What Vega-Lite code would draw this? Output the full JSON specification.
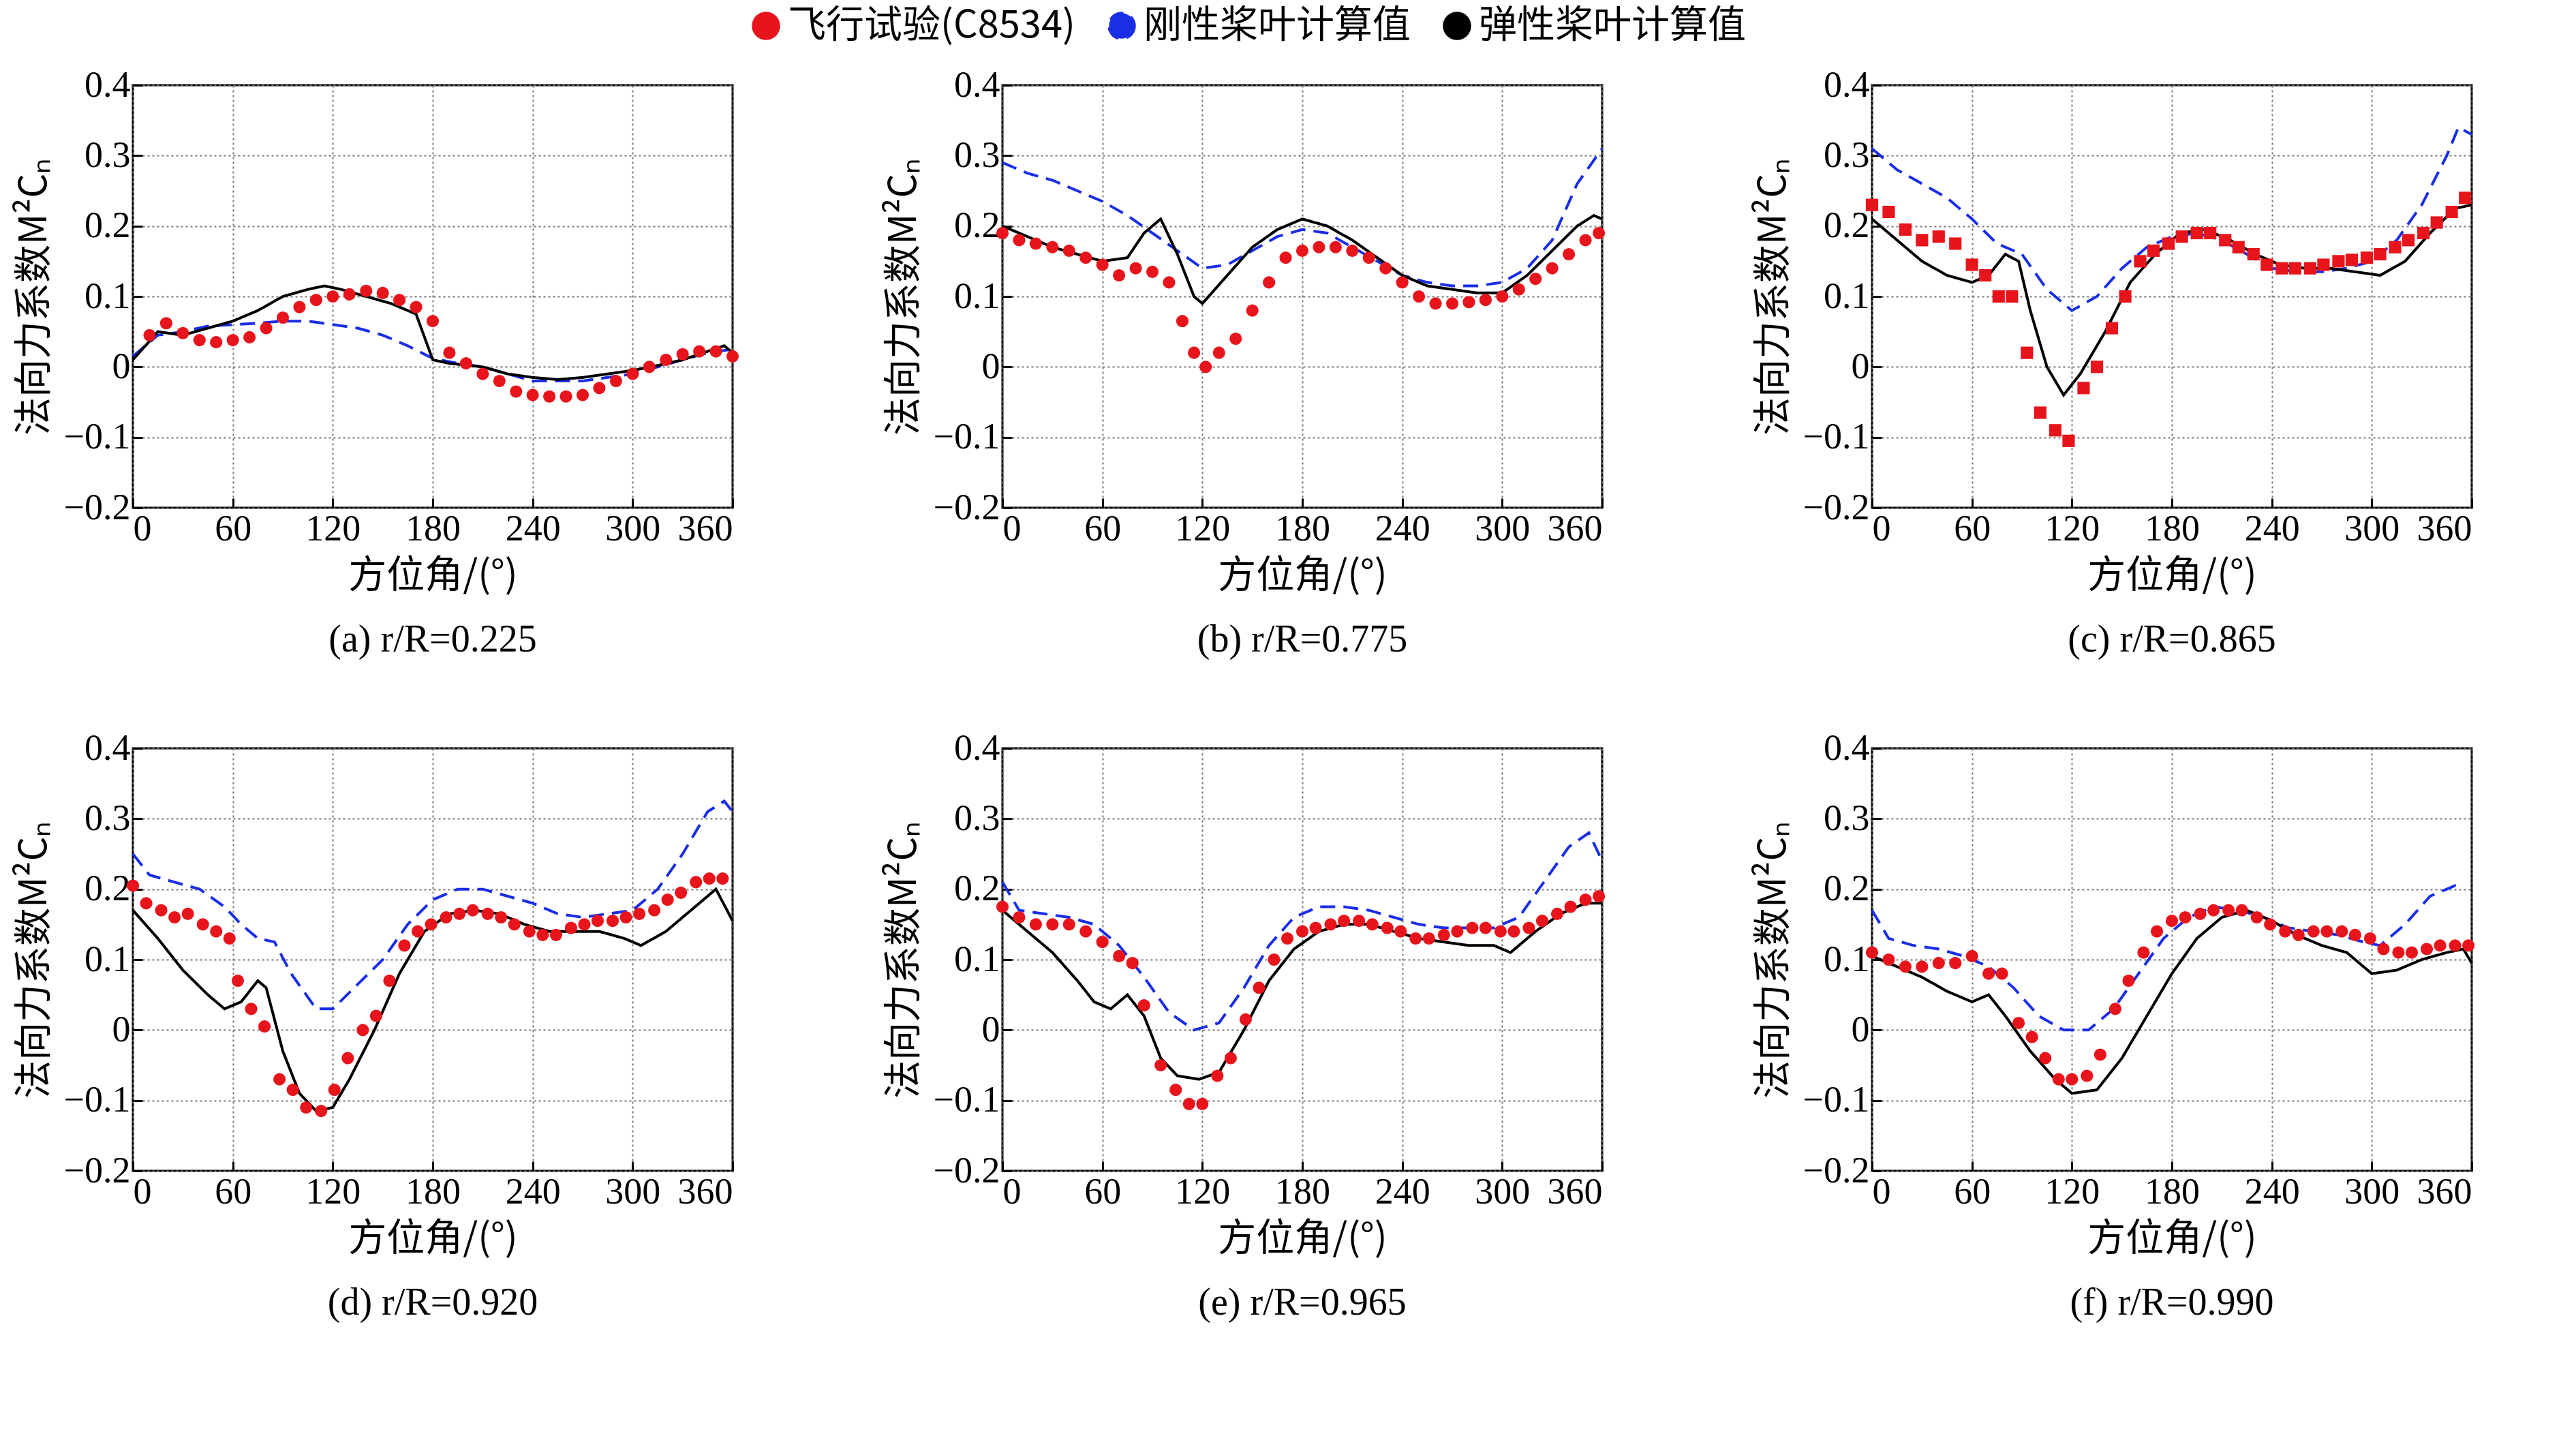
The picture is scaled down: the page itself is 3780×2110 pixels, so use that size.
{
  "$schema": "https://vega.github.io/schema/vega-lite/v6.json",
  "background": "white",
  "padding": {"left": 20, "top": 10, "right": 20, "bottom": 10},
  "data": {"values": [
      {"p":"(a) r/R=0.225","s":"飞行试验(C8534)","x":10,"y":0.045},{"p":"(a) r/R=0.225","s":"飞行试验(C8534)","x":20,"y":0.062},{"p":"(a) r/R=0.225","s":"飞行试验(C8534)","x":30,"y":0.048},{"p":"(a) r/R=0.225","s":"飞行试验(C8534)","x":40,"y":0.038},{"p":"(a) r/R=0.225","s":"飞行试验(C8534)","x":50,"y":0.035},{"p":"(a) r/R=0.225","s":"飞行试验(C8534)","x":60,"y":0.038},{"p":"(a) r/R=0.225","s":"飞行试验(C8534)","x":70,"y":0.042},{"p":"(a) r/R=0.225","s":"飞行试验(C8534)","x":80,"y":0.055},{"p":"(a) r/R=0.225","s":"飞行试验(C8534)","x":90,"y":0.07},{"p":"(a) r/R=0.225","s":"飞行试验(C8534)","x":100,"y":0.085},{"p":"(a) r/R=0.225","s":"飞行试验(C8534)","x":110,"y":0.095},{"p":"(a) r/R=0.225","s":"飞行试验(C8534)","x":120,"y":0.1},{"p":"(a) r/R=0.225","s":"飞行试验(C8534)","x":130,"y":0.103},{"p":"(a) r/R=0.225","s":"飞行试验(C8534)","x":140,"y":0.108},{"p":"(a) r/R=0.225","s":"飞行试验(C8534)","x":150,"y":0.105},{"p":"(a) r/R=0.225","s":"飞行试验(C8534)","x":160,"y":0.095},{"p":"(a) r/R=0.225","s":"飞行试验(C8534)","x":170,"y":0.085},{"p":"(a) r/R=0.225","s":"飞行试验(C8534)","x":180,"y":0.065},{"p":"(a) r/R=0.225","s":"飞行试验(C8534)","x":190,"y":0.02},{"p":"(a) r/R=0.225","s":"飞行试验(C8534)","x":200,"y":0.005},{"p":"(a) r/R=0.225","s":"飞行试验(C8534)","x":210,"y":-0.01},{"p":"(a) r/R=0.225","s":"飞行试验(C8534)","x":220,"y":-0.02},{"p":"(a) r/R=0.225","s":"飞行试验(C8534)","x":230,"y":-0.035},{"p":"(a) r/R=0.225","s":"飞行试验(C8534)","x":240,"y":-0.04},{"p":"(a) r/R=0.225","s":"飞行试验(C8534)","x":250,"y":-0.042},{"p":"(a) r/R=0.225","s":"飞行试验(C8534)","x":260,"y":-0.042},{"p":"(a) r/R=0.225","s":"飞行试验(C8534)","x":270,"y":-0.04},{"p":"(a) r/R=0.225","s":"飞行试验(C8534)","x":280,"y":-0.03},{"p":"(a) r/R=0.225","s":"飞行试验(C8534)","x":290,"y":-0.02},{"p":"(a) r/R=0.225","s":"飞行试验(C8534)","x":300,"y":-0.01},{"p":"(a) r/R=0.225","s":"飞行试验(C8534)","x":310,"y":0},{"p":"(a) r/R=0.225","s":"飞行试验(C8534)","x":320,"y":0.01},{"p":"(a) r/R=0.225","s":"飞行试验(C8534)","x":330,"y":0.018},{"p":"(a) r/R=0.225","s":"飞行试验(C8534)","x":340,"y":0.022},{"p":"(a) r/R=0.225","s":"飞行试验(C8534)","x":350,"y":0.022},{"p":"(a) r/R=0.225","s":"飞行试验(C8534)","x":360,"y":0.015},
      {"p":"(b) r/R=0.775","s":"飞行试验(C8534)","x":0,"y":0.19},{"p":"(b) r/R=0.775","s":"飞行试验(C8534)","x":10,"y":0.18},{"p":"(b) r/R=0.775","s":"飞行试验(C8534)","x":20,"y":0.175},{"p":"(b) r/R=0.775","s":"飞行试验(C8534)","x":30,"y":0.17},{"p":"(b) r/R=0.775","s":"飞行试验(C8534)","x":40,"y":0.165},{"p":"(b) r/R=0.775","s":"飞行试验(C8534)","x":50,"y":0.155},{"p":"(b) r/R=0.775","s":"飞行试验(C8534)","x":60,"y":0.145},{"p":"(b) r/R=0.775","s":"飞行试验(C8534)","x":70,"y":0.13},{"p":"(b) r/R=0.775","s":"飞行试验(C8534)","x":80,"y":0.14},{"p":"(b) r/R=0.775","s":"飞行试验(C8534)","x":90,"y":0.135},{"p":"(b) r/R=0.775","s":"飞行试验(C8534)","x":100,"y":0.12},{"p":"(b) r/R=0.775","s":"飞行试验(C8534)","x":108,"y":0.065},{"p":"(b) r/R=0.775","s":"飞行试验(C8534)","x":115,"y":0.02},{"p":"(b) r/R=0.775","s":"飞行试验(C8534)","x":122,"y":0},{"p":"(b) r/R=0.775","s":"飞行试验(C8534)","x":130,"y":0.02},{"p":"(b) r/R=0.775","s":"飞行试验(C8534)","x":140,"y":0.04},{"p":"(b) r/R=0.775","s":"飞行试验(C8534)","x":150,"y":0.08},{"p":"(b) r/R=0.775","s":"飞行试验(C8534)","x":160,"y":0.12},{"p":"(b) r/R=0.775","s":"飞行试验(C8534)","x":170,"y":0.155},{"p":"(b) r/R=0.775","s":"飞行试验(C8534)","x":180,"y":0.165},{"p":"(b) r/R=0.775","s":"飞行试验(C8534)","x":190,"y":0.17},{"p":"(b) r/R=0.775","s":"飞行试验(C8534)","x":200,"y":0.17},{"p":"(b) r/R=0.775","s":"飞行试验(C8534)","x":210,"y":0.165},{"p":"(b) r/R=0.775","s":"飞行试验(C8534)","x":220,"y":0.155},{"p":"(b) r/R=0.775","s":"飞行试验(C8534)","x":230,"y":0.14},{"p":"(b) r/R=0.775","s":"飞行试验(C8534)","x":240,"y":0.12},{"p":"(b) r/R=0.775","s":"飞行试验(C8534)","x":250,"y":0.1},{"p":"(b) r/R=0.775","s":"飞行试验(C8534)","x":260,"y":0.09},{"p":"(b) r/R=0.775","s":"飞行试验(C8534)","x":270,"y":0.09},{"p":"(b) r/R=0.775","s":"飞行试验(C8534)","x":280,"y":0.092},{"p":"(b) r/R=0.775","s":"飞行试验(C8534)","x":290,"y":0.095},{"p":"(b) r/R=0.775","s":"飞行试验(C8534)","x":300,"y":0.1},{"p":"(b) r/R=0.775","s":"飞行试验(C8534)","x":310,"y":0.11},{"p":"(b) r/R=0.775","s":"飞行试验(C8534)","x":320,"y":0.125},{"p":"(b) r/R=0.775","s":"飞行试验(C8534)","x":330,"y":0.14},{"p":"(b) r/R=0.775","s":"飞行试验(C8534)","x":340,"y":0.16},{"p":"(b) r/R=0.775","s":"飞行试验(C8534)","x":350,"y":0.18},{"p":"(b) r/R=0.775","s":"飞行试验(C8534)","x":358,"y":0.19},
      {"p":"(c) r/R=0.865","s":"飞行试验(C8534)","x":0,"y":0.23},{"p":"(c) r/R=0.865","s":"飞行试验(C8534)","x":10,"y":0.22},{"p":"(c) r/R=0.865","s":"飞行试验(C8534)","x":20,"y":0.195},{"p":"(c) r/R=0.865","s":"飞行试验(C8534)","x":30,"y":0.18},{"p":"(c) r/R=0.865","s":"飞行试验(C8534)","x":40,"y":0.185},{"p":"(c) r/R=0.865","s":"飞行试验(C8534)","x":50,"y":0.175},{"p":"(c) r/R=0.865","s":"飞行试验(C8534)","x":60,"y":0.145},{"p":"(c) r/R=0.865","s":"飞行试验(C8534)","x":68,"y":0.13},{"p":"(c) r/R=0.865","s":"飞行试验(C8534)","x":76,"y":0.1},{"p":"(c) r/R=0.865","s":"飞行试验(C8534)","x":84,"y":0.1},{"p":"(c) r/R=0.865","s":"飞行试验(C8534)","x":93,"y":0.02},{"p":"(c) r/R=0.865","s":"飞行试验(C8534)","x":101,"y":-0.065},{"p":"(c) r/R=0.865","s":"飞行试验(C8534)","x":110,"y":-0.09},{"p":"(c) r/R=0.865","s":"飞行试验(C8534)","x":118,"y":-0.105},{"p":"(c) r/R=0.865","s":"飞行试验(C8534)","x":127,"y":-0.03},{"p":"(c) r/R=0.865","s":"飞行试验(C8534)","x":135,"y":0},{"p":"(c) r/R=0.865","s":"飞行试验(C8534)","x":144,"y":0.055},{"p":"(c) r/R=0.865","s":"飞行试验(C8534)","x":152,"y":0.1},{"p":"(c) r/R=0.865","s":"飞行试验(C8534)","x":161,"y":0.15},{"p":"(c) r/R=0.865","s":"飞行试验(C8534)","x":169,"y":0.165},{"p":"(c) r/R=0.865","s":"飞行试验(C8534)","x":178,"y":0.175},{"p":"(c) r/R=0.865","s":"飞行试验(C8534)","x":186,"y":0.185},{"p":"(c) r/R=0.865","s":"飞行试验(C8534)","x":195,"y":0.19},{"p":"(c) r/R=0.865","s":"飞行试验(C8534)","x":203,"y":0.19},{"p":"(c) r/R=0.865","s":"飞行试验(C8534)","x":212,"y":0.18},{"p":"(c) r/R=0.865","s":"飞行试验(C8534)","x":220,"y":0.17},{"p":"(c) r/R=0.865","s":"飞行试验(C8534)","x":229,"y":0.16},{"p":"(c) r/R=0.865","s":"飞行试验(C8534)","x":237,"y":0.145},{"p":"(c) r/R=0.865","s":"飞行试验(C8534)","x":246,"y":0.14},{"p":"(c) r/R=0.865","s":"飞行试验(C8534)","x":254,"y":0.14},{"p":"(c) r/R=0.865","s":"飞行试验(C8534)","x":263,"y":0.14},{"p":"(c) r/R=0.865","s":"飞行试验(C8534)","x":271,"y":0.145},{"p":"(c) r/R=0.865","s":"飞行试验(C8534)","x":280,"y":0.15},{"p":"(c) r/R=0.865","s":"飞行试验(C8534)","x":288,"y":0.152},{"p":"(c) r/R=0.865","s":"飞行试验(C8534)","x":297,"y":0.155},{"p":"(c) r/R=0.865","s":"飞行试验(C8534)","x":305,"y":0.16},{"p":"(c) r/R=0.865","s":"飞行试验(C8534)","x":314,"y":0.17},{"p":"(c) r/R=0.865","s":"飞行试验(C8534)","x":322,"y":0.18},{"p":"(c) r/R=0.865","s":"飞行试验(C8534)","x":331,"y":0.19},{"p":"(c) r/R=0.865","s":"飞行试验(C8534)","x":339,"y":0.205},{"p":"(c) r/R=0.865","s":"飞行试验(C8534)","x":348,"y":0.22},{"p":"(c) r/R=0.865","s":"飞行试验(C8534)","x":356,"y":0.24},
      {"p":"(d) r/R=0.920","s":"飞行试验(C8534)","x":0,"y":0.205},{"p":"(d) r/R=0.920","s":"飞行试验(C8534)","x":8,"y":0.18},{"p":"(d) r/R=0.920","s":"飞行试验(C8534)","x":17,"y":0.17},{"p":"(d) r/R=0.920","s":"飞行试验(C8534)","x":25,"y":0.16},{"p":"(d) r/R=0.920","s":"飞行试验(C8534)","x":33,"y":0.165},{"p":"(d) r/R=0.920","s":"飞行试验(C8534)","x":42,"y":0.15},{"p":"(d) r/R=0.920","s":"飞行试验(C8534)","x":50,"y":0.14},{"p":"(d) r/R=0.920","s":"飞行试验(C8534)","x":58,"y":0.13},{"p":"(d) r/R=0.920","s":"飞行试验(C8534)","x":63,"y":0.07},{"p":"(d) r/R=0.920","s":"飞行试验(C8534)","x":71,"y":0.03},{"p":"(d) r/R=0.920","s":"飞行试验(C8534)","x":79,"y":0.005},{"p":"(d) r/R=0.920","s":"飞行试验(C8534)","x":88,"y":-0.07},{"p":"(d) r/R=0.920","s":"飞行试验(C8534)","x":96,"y":-0.085},{"p":"(d) r/R=0.920","s":"飞行试验(C8534)","x":104,"y":-0.11},{"p":"(d) r/R=0.920","s":"飞行试验(C8534)","x":113,"y":-0.115},{"p":"(d) r/R=0.920","s":"飞行试验(C8534)","x":121,"y":-0.085},{"p":"(d) r/R=0.920","s":"飞行试验(C8534)","x":129,"y":-0.04},{"p":"(d) r/R=0.920","s":"飞行试验(C8534)","x":138,"y":0},{"p":"(d) r/R=0.920","s":"飞行试验(C8534)","x":146,"y":0.02},{"p":"(d) r/R=0.920","s":"飞行试验(C8534)","x":154,"y":0.07},{"p":"(d) r/R=0.920","s":"飞行试验(C8534)","x":163,"y":0.12},{"p":"(d) r/R=0.920","s":"飞行试验(C8534)","x":171,"y":0.14},{"p":"(d) r/R=0.920","s":"飞行试验(C8534)","x":179,"y":0.15},{"p":"(d) r/R=0.920","s":"飞行试验(C8534)","x":188,"y":0.16},{"p":"(d) r/R=0.920","s":"飞行试验(C8534)","x":196,"y":0.165},{"p":"(d) r/R=0.920","s":"飞行试验(C8534)","x":204,"y":0.17},{"p":"(d) r/R=0.920","s":"飞行试验(C8534)","x":213,"y":0.165},{"p":"(d) r/R=0.920","s":"飞行试验(C8534)","x":221,"y":0.16},{"p":"(d) r/R=0.920","s":"飞行试验(C8534)","x":229,"y":0.15},{"p":"(d) r/R=0.920","s":"飞行试验(C8534)","x":238,"y":0.14},{"p":"(d) r/R=0.920","s":"飞行试验(C8534)","x":246,"y":0.135},{"p":"(d) r/R=0.920","s":"飞行试验(C8534)","x":254,"y":0.135},{"p":"(d) r/R=0.920","s":"飞行试验(C8534)","x":263,"y":0.145},{"p":"(d) r/R=0.920","s":"飞行试验(C8534)","x":271,"y":0.15},{"p":"(d) r/R=0.920","s":"飞行试验(C8534)","x":279,"y":0.155},{"p":"(d) r/R=0.920","s":"飞行试验(C8534)","x":288,"y":0.155},{"p":"(d) r/R=0.920","s":"飞行试验(C8534)","x":296,"y":0.16},{"p":"(d) r/R=0.920","s":"飞行试验(C8534)","x":304,"y":0.165},{"p":"(d) r/R=0.920","s":"飞行试验(C8534)","x":313,"y":0.17},{"p":"(d) r/R=0.920","s":"飞行试验(C8534)","x":321,"y":0.185},{"p":"(d) r/R=0.920","s":"飞行试验(C8534)","x":329,"y":0.195},{"p":"(d) r/R=0.920","s":"飞行试验(C8534)","x":338,"y":0.21},{"p":"(d) r/R=0.920","s":"飞行试验(C8534)","x":346,"y":0.215},{"p":"(d) r/R=0.920","s":"飞行试验(C8534)","x":354,"y":0.215},
      {"p":"(e) r/R=0.965","s":"飞行试验(C8534)","x":0,"y":0.175},{"p":"(e) r/R=0.965","s":"飞行试验(C8534)","x":10,"y":0.16},{"p":"(e) r/R=0.965","s":"飞行试验(C8534)","x":20,"y":0.15},{"p":"(e) r/R=0.965","s":"飞行试验(C8534)","x":30,"y":0.15},{"p":"(e) r/R=0.965","s":"飞行试验(C8534)","x":40,"y":0.15},{"p":"(e) r/R=0.965","s":"飞行试验(C8534)","x":50,"y":0.14},{"p":"(e) r/R=0.965","s":"飞行试验(C8534)","x":60,"y":0.125},{"p":"(e) r/R=0.965","s":"飞行试验(C8534)","x":70,"y":0.105},{"p":"(e) r/R=0.965","s":"飞行试验(C8534)","x":78,"y":0.095},{"p":"(e) r/R=0.965","s":"飞行试验(C8534)","x":85,"y":0.035},{"p":"(e) r/R=0.965","s":"飞行试验(C8534)","x":95,"y":-0.05},{"p":"(e) r/R=0.965","s":"飞行试验(C8534)","x":104,"y":-0.085},{"p":"(e) r/R=0.965","s":"飞行试验(C8534)","x":112,"y":-0.105},{"p":"(e) r/R=0.965","s":"飞行试验(C8534)","x":120,"y":-0.105},{"p":"(e) r/R=0.965","s":"飞行试验(C8534)","x":129,"y":-0.065},{"p":"(e) r/R=0.965","s":"飞行试验(C8534)","x":137,"y":-0.04},{"p":"(e) r/R=0.965","s":"飞行试验(C8534)","x":146,"y":0.015},{"p":"(e) r/R=0.965","s":"飞行试验(C8534)","x":154,"y":0.06},{"p":"(e) r/R=0.965","s":"飞行试验(C8534)","x":163,"y":0.1},{"p":"(e) r/R=0.965","s":"飞行试验(C8534)","x":171,"y":0.13},{"p":"(e) r/R=0.965","s":"飞行试验(C8534)","x":180,"y":0.14},{"p":"(e) r/R=0.965","s":"飞行试验(C8534)","x":188,"y":0.145},{"p":"(e) r/R=0.965","s":"飞行试验(C8534)","x":197,"y":0.15},{"p":"(e) r/R=0.965","s":"飞行试验(C8534)","x":205,"y":0.155},{"p":"(e) r/R=0.965","s":"飞行试验(C8534)","x":214,"y":0.155},{"p":"(e) r/R=0.965","s":"飞行试验(C8534)","x":222,"y":0.15},{"p":"(e) r/R=0.965","s":"飞行试验(C8534)","x":231,"y":0.145},{"p":"(e) r/R=0.965","s":"飞行试验(C8534)","x":239,"y":0.14},{"p":"(e) r/R=0.965","s":"飞行试验(C8534)","x":248,"y":0.13},{"p":"(e) r/R=0.965","s":"飞行试验(C8534)","x":256,"y":0.13},{"p":"(e) r/R=0.965","s":"飞行试验(C8534)","x":265,"y":0.135},{"p":"(e) r/R=0.965","s":"飞行试验(C8534)","x":273,"y":0.14},{"p":"(e) r/R=0.965","s":"飞行试验(C8534)","x":282,"y":0.145},{"p":"(e) r/R=0.965","s":"飞行试验(C8534)","x":290,"y":0.145},{"p":"(e) r/R=0.965","s":"飞行试验(C8534)","x":299,"y":0.14},{"p":"(e) r/R=0.965","s":"飞行试验(C8534)","x":307,"y":0.14},{"p":"(e) r/R=0.965","s":"飞行试验(C8534)","x":316,"y":0.145},{"p":"(e) r/R=0.965","s":"飞行试验(C8534)","x":324,"y":0.155},{"p":"(e) r/R=0.965","s":"飞行试验(C8534)","x":333,"y":0.165},{"p":"(e) r/R=0.965","s":"飞行试验(C8534)","x":341,"y":0.175},{"p":"(e) r/R=0.965","s":"飞行试验(C8534)","x":350,"y":0.185},{"p":"(e) r/R=0.965","s":"飞行试验(C8534)","x":358,"y":0.19},
      {"p":"(f) r/R=0.990","s":"飞行试验(C8534)","x":0,"y":0.11},{"p":"(f) r/R=0.990","s":"飞行试验(C8534)","x":10,"y":0.1},{"p":"(f) r/R=0.990","s":"飞行试验(C8534)","x":20,"y":0.09},{"p":"(f) r/R=0.990","s":"飞行试验(C8534)","x":30,"y":0.09},{"p":"(f) r/R=0.990","s":"飞行试验(C8534)","x":40,"y":0.095},{"p":"(f) r/R=0.990","s":"飞行试验(C8534)","x":50,"y":0.095},{"p":"(f) r/R=0.990","s":"飞行试验(C8534)","x":60,"y":0.105},{"p":"(f) r/R=0.990","s":"飞行试验(C8534)","x":70,"y":0.08},{"p":"(f) r/R=0.990","s":"飞行试验(C8534)","x":78,"y":0.08},{"p":"(f) r/R=0.990","s":"飞行试验(C8534)","x":88,"y":0.01},{"p":"(f) r/R=0.990","s":"飞行试验(C8534)","x":96,"y":-0.01},{"p":"(f) r/R=0.990","s":"飞行试验(C8534)","x":104,"y":-0.04},{"p":"(f) r/R=0.990","s":"飞行试验(C8534)","x":112,"y":-0.07},{"p":"(f) r/R=0.990","s":"飞行试验(C8534)","x":120,"y":-0.07},{"p":"(f) r/R=0.990","s":"飞行试验(C8534)","x":129,"y":-0.065},{"p":"(f) r/R=0.990","s":"飞行试验(C8534)","x":137,"y":-0.035},{"p":"(f) r/R=0.990","s":"飞行试验(C8534)","x":146,"y":0.03},{"p":"(f) r/R=0.990","s":"飞行试验(C8534)","x":154,"y":0.07},{"p":"(f) r/R=0.990","s":"飞行试验(C8534)","x":163,"y":0.11},{"p":"(f) r/R=0.990","s":"飞行试验(C8534)","x":171,"y":0.14},{"p":"(f) r/R=0.990","s":"飞行试验(C8534)","x":180,"y":0.155},{"p":"(f) r/R=0.990","s":"飞行试验(C8534)","x":188,"y":0.16},{"p":"(f) r/R=0.990","s":"飞行试验(C8534)","x":197,"y":0.165},{"p":"(f) r/R=0.990","s":"飞行试验(C8534)","x":205,"y":0.17},{"p":"(f) r/R=0.990","s":"飞行试验(C8534)","x":214,"y":0.17},{"p":"(f) r/R=0.990","s":"飞行试验(C8534)","x":222,"y":0.17},{"p":"(f) r/R=0.990","s":"飞行试验(C8534)","x":231,"y":0.16},{"p":"(f) r/R=0.990","s":"飞行试验(C8534)","x":239,"y":0.15},{"p":"(f) r/R=0.990","s":"飞行试验(C8534)","x":248,"y":0.14},{"p":"(f) r/R=0.990","s":"飞行试验(C8534)","x":256,"y":0.135},{"p":"(f) r/R=0.990","s":"飞行试验(C8534)","x":265,"y":0.14},{"p":"(f) r/R=0.990","s":"飞行试验(C8534)","x":273,"y":0.14},{"p":"(f) r/R=0.990","s":"飞行试验(C8534)","x":282,"y":0.14},{"p":"(f) r/R=0.990","s":"飞行试验(C8534)","x":290,"y":0.135},{"p":"(f) r/R=0.990","s":"飞行试验(C8534)","x":299,"y":0.13},{"p":"(f) r/R=0.990","s":"飞行试验(C8534)","x":307,"y":0.115},{"p":"(f) r/R=0.990","s":"飞行试验(C8534)","x":316,"y":0.11},{"p":"(f) r/R=0.990","s":"飞行试验(C8534)","x":324,"y":0.11},{"p":"(f) r/R=0.990","s":"飞行试验(C8534)","x":333,"y":0.115},{"p":"(f) r/R=0.990","s":"飞行试验(C8534)","x":341,"y":0.12},{"p":"(f) r/R=0.990","s":"飞行试验(C8534)","x":350,"y":0.12},{"p":"(f) r/R=0.990","s":"飞行试验(C8534)","x":358,"y":0.12},
      {"p":"(a) r/R=0.225","s":"刚性桨叶计算值","x":0,"y":0.015},{"p":"(a) r/R=0.225","s":"刚性桨叶计算值","x":15,"y":0.045},{"p":"(a) r/R=0.225","s":"刚性桨叶计算值","x":30,"y":0.05},{"p":"(a) r/R=0.225","s":"刚性桨叶计算值","x":45,"y":0.058},{"p":"(a) r/R=0.225","s":"刚性桨叶计算值","x":60,"y":0.06},{"p":"(a) r/R=0.225","s":"刚性桨叶计算值","x":75,"y":0.062},{"p":"(a) r/R=0.225","s":"刚性桨叶计算值","x":90,"y":0.065},{"p":"(a) r/R=0.225","s":"刚性桨叶计算值","x":105,"y":0.065},{"p":"(a) r/R=0.225","s":"刚性桨叶计算值","x":120,"y":0.06},{"p":"(a) r/R=0.225","s":"刚性桨叶计算值","x":135,"y":0.055},{"p":"(a) r/R=0.225","s":"刚性桨叶计算值","x":150,"y":0.045},{"p":"(a) r/R=0.225","s":"刚性桨叶计算值","x":165,"y":0.03},{"p":"(a) r/R=0.225","s":"刚性桨叶计算值","x":180,"y":0.012},{"p":"(a) r/R=0.225","s":"刚性桨叶计算值","x":195,"y":0.005},{"p":"(a) r/R=0.225","s":"刚性桨叶计算值","x":210,"y":0},{"p":"(a) r/R=0.225","s":"刚性桨叶计算值","x":225,"y":-0.01},{"p":"(a) r/R=0.225","s":"刚性桨叶计算值","x":240,"y":-0.02},{"p":"(a) r/R=0.225","s":"刚性桨叶计算值","x":255,"y":-0.02},{"p":"(a) r/R=0.225","s":"刚性桨叶计算值","x":270,"y":-0.02},{"p":"(a) r/R=0.225","s":"刚性桨叶计算值","x":285,"y":-0.015},{"p":"(a) r/R=0.225","s":"刚性桨叶计算值","x":300,"y":-0.01},{"p":"(a) r/R=0.225","s":"刚性桨叶计算值","x":315,"y":0},{"p":"(a) r/R=0.225","s":"刚性桨叶计算值","x":330,"y":0.01},{"p":"(a) r/R=0.225","s":"刚性桨叶计算值","x":345,"y":0.02},{"p":"(a) r/R=0.225","s":"刚性桨叶计算值","x":360,"y":0.025},
      {"p":"(a) r/R=0.225","s":"弹性桨叶计算值","x":0,"y":0.01},{"p":"(a) r/R=0.225","s":"弹性桨叶计算值","x":15,"y":0.05},{"p":"(a) r/R=0.225","s":"弹性桨叶计算值","x":30,"y":0.045},{"p":"(a) r/R=0.225","s":"弹性桨叶计算值","x":45,"y":0.055},{"p":"(a) r/R=0.225","s":"弹性桨叶计算值","x":60,"y":0.065},{"p":"(a) r/R=0.225","s":"弹性桨叶计算值","x":75,"y":0.08},{"p":"(a) r/R=0.225","s":"弹性桨叶计算值","x":90,"y":0.1},{"p":"(a) r/R=0.225","s":"弹性桨叶计算值","x":105,"y":0.11},{"p":"(a) r/R=0.225","s":"弹性桨叶计算值","x":115,"y":0.115},{"p":"(a) r/R=0.225","s":"弹性桨叶计算值","x":125,"y":0.11},{"p":"(a) r/R=0.225","s":"弹性桨叶计算值","x":140,"y":0.1},{"p":"(a) r/R=0.225","s":"弹性桨叶计算值","x":155,"y":0.09},{"p":"(a) r/R=0.225","s":"弹性桨叶计算值","x":170,"y":0.075},{"p":"(a) r/R=0.225","s":"弹性桨叶计算值","x":180,"y":0.01},{"p":"(a) r/R=0.225","s":"弹性桨叶计算值","x":190,"y":0.005},{"p":"(a) r/R=0.225","s":"弹性桨叶计算值","x":210,"y":0},{"p":"(a) r/R=0.225","s":"弹性桨叶计算值","x":225,"y":-0.01},{"p":"(a) r/R=0.225","s":"弹性桨叶计算值","x":240,"y":-0.015},{"p":"(a) r/R=0.225","s":"弹性桨叶计算值","x":255,"y":-0.018},{"p":"(a) r/R=0.225","s":"弹性桨叶计算值","x":270,"y":-0.015},{"p":"(a) r/R=0.225","s":"弹性桨叶计算值","x":285,"y":-0.01},{"p":"(a) r/R=0.225","s":"弹性桨叶计算值","x":300,"y":-0.005},{"p":"(a) r/R=0.225","s":"弹性桨叶计算值","x":315,"y":0.002},{"p":"(a) r/R=0.225","s":"弹性桨叶计算值","x":330,"y":0.01},{"p":"(a) r/R=0.225","s":"弹性桨叶计算值","x":345,"y":0.022},{"p":"(a) r/R=0.225","s":"弹性桨叶计算值","x":355,"y":0.03},{"p":"(a) r/R=0.225","s":"弹性桨叶计算值","x":360,"y":0.02},
      {"p":"(b) r/R=0.775","s":"刚性桨叶计算值","x":0,"y":0.29},{"p":"(b) r/R=0.775","s":"刚性桨叶计算值","x":15,"y":0.275},{"p":"(b) r/R=0.775","s":"刚性桨叶计算值","x":30,"y":0.265},{"p":"(b) r/R=0.775","s":"刚性桨叶计算值","x":45,"y":0.25},{"p":"(b) r/R=0.775","s":"刚性桨叶计算值","x":60,"y":0.235},{"p":"(b) r/R=0.775","s":"刚性桨叶计算值","x":75,"y":0.215},{"p":"(b) r/R=0.775","s":"刚性桨叶计算值","x":90,"y":0.19},{"p":"(b) r/R=0.775","s":"刚性桨叶计算值","x":105,"y":0.165},{"p":"(b) r/R=0.775","s":"刚性桨叶计算值","x":120,"y":0.14},{"p":"(b) r/R=0.775","s":"刚性桨叶计算值","x":135,"y":0.145},{"p":"(b) r/R=0.775","s":"刚性桨叶计算值","x":150,"y":0.165},{"p":"(b) r/R=0.775","s":"刚性桨叶计算值","x":165,"y":0.185},{"p":"(b) r/R=0.775","s":"刚性桨叶计算值","x":180,"y":0.195},{"p":"(b) r/R=0.775","s":"刚性桨叶计算值","x":195,"y":0.19},{"p":"(b) r/R=0.775","s":"刚性桨叶计算值","x":210,"y":0.17},{"p":"(b) r/R=0.775","s":"刚性桨叶计算值","x":225,"y":0.15},{"p":"(b) r/R=0.775","s":"刚性桨叶计算值","x":240,"y":0.13},{"p":"(b) r/R=0.775","s":"刚性桨叶计算值","x":255,"y":0.12},{"p":"(b) r/R=0.775","s":"刚性桨叶计算值","x":270,"y":0.115},{"p":"(b) r/R=0.775","s":"刚性桨叶计算值","x":285,"y":0.115},{"p":"(b) r/R=0.775","s":"刚性桨叶计算值","x":300,"y":0.12},{"p":"(b) r/R=0.775","s":"刚性桨叶计算值","x":315,"y":0.14},{"p":"(b) r/R=0.775","s":"刚性桨叶计算值","x":330,"y":0.18},{"p":"(b) r/R=0.775","s":"刚性桨叶计算值","x":345,"y":0.26},{"p":"(b) r/R=0.775","s":"刚性桨叶计算值","x":360,"y":0.31},
      {"p":"(b) r/R=0.775","s":"弹性桨叶计算值","x":0,"y":0.2},{"p":"(b) r/R=0.775","s":"弹性桨叶计算值","x":15,"y":0.185},{"p":"(b) r/R=0.775","s":"弹性桨叶计算值","x":30,"y":0.17},{"p":"(b) r/R=0.775","s":"弹性桨叶计算值","x":45,"y":0.16},{"p":"(b) r/R=0.775","s":"弹性桨叶计算值","x":60,"y":0.15},{"p":"(b) r/R=0.775","s":"弹性桨叶计算值","x":75,"y":0.155},{"p":"(b) r/R=0.775","s":"弹性桨叶计算值","x":85,"y":0.19},{"p":"(b) r/R=0.775","s":"弹性桨叶计算值","x":95,"y":0.21},{"p":"(b) r/R=0.775","s":"弹性桨叶计算值","x":105,"y":0.16},{"p":"(b) r/R=0.775","s":"弹性桨叶计算值","x":115,"y":0.1},{"p":"(b) r/R=0.775","s":"弹性桨叶计算值","x":120,"y":0.09},{"p":"(b) r/R=0.775","s":"弹性桨叶计算值","x":135,"y":0.13},{"p":"(b) r/R=0.775","s":"弹性桨叶计算值","x":150,"y":0.17},{"p":"(b) r/R=0.775","s":"弹性桨叶计算值","x":165,"y":0.195},{"p":"(b) r/R=0.775","s":"弹性桨叶计算值","x":180,"y":0.21},{"p":"(b) r/R=0.775","s":"弹性桨叶计算值","x":195,"y":0.2},{"p":"(b) r/R=0.775","s":"弹性桨叶计算值","x":210,"y":0.18},{"p":"(b) r/R=0.775","s":"弹性桨叶计算值","x":225,"y":0.155},{"p":"(b) r/R=0.775","s":"弹性桨叶计算值","x":240,"y":0.13},{"p":"(b) r/R=0.775","s":"弹性桨叶计算值","x":255,"y":0.115},{"p":"(b) r/R=0.775","s":"弹性桨叶计算值","x":270,"y":0.11},{"p":"(b) r/R=0.775","s":"弹性桨叶计算值","x":285,"y":0.105},{"p":"(b) r/R=0.775","s":"弹性桨叶计算值","x":300,"y":0.105},{"p":"(b) r/R=0.775","s":"弹性桨叶计算值","x":315,"y":0.13},{"p":"(b) r/R=0.775","s":"弹性桨叶计算值","x":330,"y":0.165},{"p":"(b) r/R=0.775","s":"弹性桨叶计算值","x":345,"y":0.2},{"p":"(b) r/R=0.775","s":"弹性桨叶计算值","x":355,"y":0.215},{"p":"(b) r/R=0.775","s":"弹性桨叶计算值","x":360,"y":0.21},
      {"p":"(c) r/R=0.865","s":"刚性桨叶计算值","x":0,"y":0.31},{"p":"(c) r/R=0.865","s":"刚性桨叶计算值","x":15,"y":0.28},{"p":"(c) r/R=0.865","s":"刚性桨叶计算值","x":30,"y":0.26},{"p":"(c) r/R=0.865","s":"刚性桨叶计算值","x":45,"y":0.24},{"p":"(c) r/R=0.865","s":"刚性桨叶计算值","x":60,"y":0.21},{"p":"(c) r/R=0.865","s":"刚性桨叶计算值","x":75,"y":0.175},{"p":"(c) r/R=0.865","s":"刚性桨叶计算值","x":90,"y":0.16},{"p":"(c) r/R=0.865","s":"刚性桨叶计算值","x":105,"y":0.11},{"p":"(c) r/R=0.865","s":"刚性桨叶计算值","x":120,"y":0.08},{"p":"(c) r/R=0.865","s":"刚性桨叶计算值","x":135,"y":0.1},{"p":"(c) r/R=0.865","s":"刚性桨叶计算值","x":150,"y":0.14},{"p":"(c) r/R=0.865","s":"刚性桨叶计算值","x":165,"y":0.17},{"p":"(c) r/R=0.865","s":"刚性桨叶计算值","x":180,"y":0.185},{"p":"(c) r/R=0.865","s":"刚性桨叶计算值","x":195,"y":0.19},{"p":"(c) r/R=0.865","s":"刚性桨叶计算值","x":210,"y":0.18},{"p":"(c) r/R=0.865","s":"刚性桨叶计算值","x":225,"y":0.16},{"p":"(c) r/R=0.865","s":"刚性桨叶计算值","x":240,"y":0.14},{"p":"(c) r/R=0.865","s":"刚性桨叶计算值","x":255,"y":0.135},{"p":"(c) r/R=0.865","s":"刚性桨叶计算值","x":270,"y":0.135},{"p":"(c) r/R=0.865","s":"刚性桨叶计算值","x":285,"y":0.14},{"p":"(c) r/R=0.865","s":"刚性桨叶计算值","x":300,"y":0.15},{"p":"(c) r/R=0.865","s":"刚性桨叶计算值","x":315,"y":0.18},{"p":"(c) r/R=0.865","s":"刚性桨叶计算值","x":330,"y":0.23},{"p":"(c) r/R=0.865","s":"刚性桨叶计算值","x":345,"y":0.3},{"p":"(c) r/R=0.865","s":"刚性桨叶计算值","x":352,"y":0.34},{"p":"(c) r/R=0.865","s":"刚性桨叶计算值","x":360,"y":0.33},
      {"p":"(c) r/R=0.865","s":"弹性桨叶计算值","x":0,"y":0.21},{"p":"(c) r/R=0.865","s":"弹性桨叶计算值","x":15,"y":0.18},{"p":"(c) r/R=0.865","s":"弹性桨叶计算值","x":30,"y":0.15},{"p":"(c) r/R=0.865","s":"弹性桨叶计算值","x":45,"y":0.13},{"p":"(c) r/R=0.865","s":"弹性桨叶计算值","x":60,"y":0.12},{"p":"(c) r/R=0.865","s":"弹性桨叶计算值","x":70,"y":0.13},{"p":"(c) r/R=0.865","s":"弹性桨叶计算值","x":80,"y":0.16},{"p":"(c) r/R=0.865","s":"弹性桨叶计算值","x":88,"y":0.15},{"p":"(c) r/R=0.865","s":"弹性桨叶计算值","x":95,"y":0.08},{"p":"(c) r/R=0.865","s":"弹性桨叶计算值","x":105,"y":0},{"p":"(c) r/R=0.865","s":"弹性桨叶计算值","x":115,"y":-0.04},{"p":"(c) r/R=0.865","s":"弹性桨叶计算值","x":125,"y":-0.01},{"p":"(c) r/R=0.865","s":"弹性桨叶计算值","x":140,"y":0.05},{"p":"(c) r/R=0.865","s":"弹性桨叶计算值","x":155,"y":0.12},{"p":"(c) r/R=0.865","s":"弹性桨叶计算值","x":170,"y":0.16},{"p":"(c) r/R=0.865","s":"弹性桨叶计算值","x":185,"y":0.19},{"p":"(c) r/R=0.865","s":"弹性桨叶计算值","x":200,"y":0.195},{"p":"(c) r/R=0.865","s":"弹性桨叶计算值","x":215,"y":0.18},{"p":"(c) r/R=0.865","s":"弹性桨叶计算值","x":230,"y":0.16},{"p":"(c) r/R=0.865","s":"弹性桨叶计算值","x":245,"y":0.145},{"p":"(c) r/R=0.865","s":"弹性桨叶计算值","x":260,"y":0.14},{"p":"(c) r/R=0.865","s":"弹性桨叶计算值","x":275,"y":0.14},{"p":"(c) r/R=0.865","s":"弹性桨叶计算值","x":290,"y":0.135},{"p":"(c) r/R=0.865","s":"弹性桨叶计算值","x":305,"y":0.13},{"p":"(c) r/R=0.865","s":"弹性桨叶计算值","x":320,"y":0.15},{"p":"(c) r/R=0.865","s":"弹性桨叶计算值","x":335,"y":0.19},{"p":"(c) r/R=0.865","s":"弹性桨叶计算值","x":350,"y":0.225},{"p":"(c) r/R=0.865","s":"弹性桨叶计算值","x":360,"y":0.23},
      {"p":"(d) r/R=0.920","s":"刚性桨叶计算值","x":0,"y":0.25},{"p":"(d) r/R=0.920","s":"刚性桨叶计算值","x":10,"y":0.22},{"p":"(d) r/R=0.920","s":"刚性桨叶计算值","x":25,"y":0.21},{"p":"(d) r/R=0.920","s":"刚性桨叶计算值","x":40,"y":0.2},{"p":"(d) r/R=0.920","s":"刚性桨叶计算值","x":55,"y":0.175},{"p":"(d) r/R=0.920","s":"刚性桨叶计算值","x":65,"y":0.15},{"p":"(d) r/R=0.920","s":"刚性桨叶计算值","x":75,"y":0.13},{"p":"(d) r/R=0.920","s":"刚性桨叶计算值","x":85,"y":0.125},{"p":"(d) r/R=0.920","s":"刚性桨叶计算值","x":95,"y":0.08},{"p":"(d) r/R=0.920","s":"刚性桨叶计算值","x":110,"y":0.03},{"p":"(d) r/R=0.920","s":"刚性桨叶计算值","x":120,"y":0.03},{"p":"(d) r/R=0.920","s":"刚性桨叶计算值","x":135,"y":0.065},{"p":"(d) r/R=0.920","s":"刚性桨叶计算值","x":150,"y":0.1},{"p":"(d) r/R=0.920","s":"刚性桨叶计算值","x":165,"y":0.15},{"p":"(d) r/R=0.920","s":"刚性桨叶计算值","x":180,"y":0.185},{"p":"(d) r/R=0.920","s":"刚性桨叶计算值","x":195,"y":0.2},{"p":"(d) r/R=0.920","s":"刚性桨叶计算值","x":210,"y":0.2},{"p":"(d) r/R=0.920","s":"刚性桨叶计算值","x":225,"y":0.19},{"p":"(d) r/R=0.920","s":"刚性桨叶计算值","x":240,"y":0.18},{"p":"(d) r/R=0.920","s":"刚性桨叶计算值","x":255,"y":0.165},{"p":"(d) r/R=0.920","s":"刚性桨叶计算值","x":270,"y":0.16},{"p":"(d) r/R=0.920","s":"刚性桨叶计算值","x":285,"y":0.165},{"p":"(d) r/R=0.920","s":"刚性桨叶计算值","x":300,"y":0.17},{"p":"(d) r/R=0.920","s":"刚性桨叶计算值","x":315,"y":0.2},{"p":"(d) r/R=0.920","s":"刚性桨叶计算值","x":330,"y":0.25},{"p":"(d) r/R=0.920","s":"刚性桨叶计算值","x":345,"y":0.31},{"p":"(d) r/R=0.920","s":"刚性桨叶计算值","x":355,"y":0.325},{"p":"(d) r/R=0.920","s":"刚性桨叶计算值","x":360,"y":0.31},
      {"p":"(d) r/R=0.920","s":"弹性桨叶计算值","x":0,"y":0.17},{"p":"(d) r/R=0.920","s":"弹性桨叶计算值","x":15,"y":0.13},{"p":"(d) r/R=0.920","s":"弹性桨叶计算值","x":30,"y":0.085},{"p":"(d) r/R=0.920","s":"弹性桨叶计算值","x":45,"y":0.05},{"p":"(d) r/R=0.920","s":"弹性桨叶计算值","x":55,"y":0.03},{"p":"(d) r/R=0.920","s":"弹性桨叶计算值","x":65,"y":0.04},{"p":"(d) r/R=0.920","s":"弹性桨叶计算值","x":75,"y":0.07},{"p":"(d) r/R=0.920","s":"弹性桨叶计算值","x":80,"y":0.06},{"p":"(d) r/R=0.920","s":"弹性桨叶计算值","x":90,"y":-0.03},{"p":"(d) r/R=0.920","s":"弹性桨叶计算值","x":100,"y":-0.09},{"p":"(d) r/R=0.920","s":"弹性桨叶计算值","x":110,"y":-0.115},{"p":"(d) r/R=0.920","s":"弹性桨叶计算值","x":120,"y":-0.11},{"p":"(d) r/R=0.920","s":"弹性桨叶计算值","x":130,"y":-0.07},{"p":"(d) r/R=0.920","s":"弹性桨叶计算值","x":145,"y":0},{"p":"(d) r/R=0.920","s":"弹性桨叶计算值","x":160,"y":0.08},{"p":"(d) r/R=0.920","s":"弹性桨叶计算值","x":175,"y":0.14},{"p":"(d) r/R=0.920","s":"弹性桨叶计算值","x":190,"y":0.165},{"p":"(d) r/R=0.920","s":"弹性桨叶计算值","x":205,"y":0.17},{"p":"(d) r/R=0.920","s":"弹性桨叶计算值","x":220,"y":0.165},{"p":"(d) r/R=0.920","s":"弹性桨叶计算值","x":235,"y":0.15},{"p":"(d) r/R=0.920","s":"弹性桨叶计算值","x":250,"y":0.14},{"p":"(d) r/R=0.920","s":"弹性桨叶计算值","x":265,"y":0.14},{"p":"(d) r/R=0.920","s":"弹性桨叶计算值","x":280,"y":0.14},{"p":"(d) r/R=0.920","s":"弹性桨叶计算值","x":295,"y":0.13},{"p":"(d) r/R=0.920","s":"弹性桨叶计算值","x":305,"y":0.12},{"p":"(d) r/R=0.920","s":"弹性桨叶计算值","x":320,"y":0.14},{"p":"(d) r/R=0.920","s":"弹性桨叶计算值","x":335,"y":0.17},{"p":"(d) r/R=0.920","s":"弹性桨叶计算值","x":350,"y":0.2},{"p":"(d) r/R=0.920","s":"弹性桨叶计算值","x":360,"y":0.155},
      {"p":"(e) r/R=0.965","s":"刚性桨叶计算值","x":0,"y":0.21},{"p":"(e) r/R=0.965","s":"刚性桨叶计算值","x":10,"y":0.17},{"p":"(e) r/R=0.965","s":"刚性桨叶计算值","x":25,"y":0.165},{"p":"(e) r/R=0.965","s":"刚性桨叶计算值","x":40,"y":0.16},{"p":"(e) r/R=0.965","s":"刚性桨叶计算值","x":55,"y":0.15},{"p":"(e) r/R=0.965","s":"刚性桨叶计算值","x":70,"y":0.12},{"p":"(e) r/R=0.965","s":"刚性桨叶计算值","x":85,"y":0.075},{"p":"(e) r/R=0.965","s":"刚性桨叶计算值","x":100,"y":0.025},{"p":"(e) r/R=0.965","s":"刚性桨叶计算值","x":115,"y":0},{"p":"(e) r/R=0.965","s":"刚性桨叶计算值","x":130,"y":0.01},{"p":"(e) r/R=0.965","s":"刚性桨叶计算值","x":145,"y":0.06},{"p":"(e) r/R=0.965","s":"刚性桨叶计算值","x":160,"y":0.12},{"p":"(e) r/R=0.965","s":"刚性桨叶计算值","x":175,"y":0.16},{"p":"(e) r/R=0.965","s":"刚性桨叶计算值","x":190,"y":0.175},{"p":"(e) r/R=0.965","s":"刚性桨叶计算值","x":205,"y":0.175},{"p":"(e) r/R=0.965","s":"刚性桨叶计算值","x":220,"y":0.17},{"p":"(e) r/R=0.965","s":"刚性桨叶计算值","x":235,"y":0.16},{"p":"(e) r/R=0.965","s":"刚性桨叶计算值","x":250,"y":0.15},{"p":"(e) r/R=0.965","s":"刚性桨叶计算值","x":265,"y":0.145},{"p":"(e) r/R=0.965","s":"刚性桨叶计算值","x":280,"y":0.145},{"p":"(e) r/R=0.965","s":"刚性桨叶计算值","x":295,"y":0.145},{"p":"(e) r/R=0.965","s":"刚性桨叶计算值","x":310,"y":0.16},{"p":"(e) r/R=0.965","s":"刚性桨叶计算值","x":325,"y":0.21},{"p":"(e) r/R=0.965","s":"刚性桨叶计算值","x":340,"y":0.26},{"p":"(e) r/R=0.965","s":"刚性桨叶计算值","x":352,"y":0.28},{"p":"(e) r/R=0.965","s":"刚性桨叶计算值","x":360,"y":0.24},
      {"p":"(e) r/R=0.965","s":"弹性桨叶计算值","x":0,"y":0.17},{"p":"(e) r/R=0.965","s":"弹性桨叶计算值","x":15,"y":0.14},{"p":"(e) r/R=0.965","s":"弹性桨叶计算值","x":30,"y":0.11},{"p":"(e) r/R=0.965","s":"弹性桨叶计算值","x":45,"y":0.07},{"p":"(e) r/R=0.965","s":"弹性桨叶计算值","x":55,"y":0.04},{"p":"(e) r/R=0.965","s":"弹性桨叶计算值","x":65,"y":0.03},{"p":"(e) r/R=0.965","s":"弹性桨叶计算值","x":75,"y":0.05},{"p":"(e) r/R=0.965","s":"弹性桨叶计算值","x":85,"y":0.02},{"p":"(e) r/R=0.965","s":"弹性桨叶计算值","x":95,"y":-0.04},{"p":"(e) r/R=0.965","s":"弹性桨叶计算值","x":105,"y":-0.065},{"p":"(e) r/R=0.965","s":"弹性桨叶计算值","x":118,"y":-0.07},{"p":"(e) r/R=0.965","s":"弹性桨叶计算值","x":130,"y":-0.06},{"p":"(e) r/R=0.965","s":"弹性桨叶计算值","x":145,"y":0},{"p":"(e) r/R=0.965","s":"弹性桨叶计算值","x":160,"y":0.07},{"p":"(e) r/R=0.965","s":"弹性桨叶计算值","x":175,"y":0.115},{"p":"(e) r/R=0.965","s":"弹性桨叶计算值","x":190,"y":0.14},{"p":"(e) r/R=0.965","s":"弹性桨叶计算值","x":205,"y":0.15},{"p":"(e) r/R=0.965","s":"弹性桨叶计算值","x":220,"y":0.15},{"p":"(e) r/R=0.965","s":"弹性桨叶计算值","x":235,"y":0.14},{"p":"(e) r/R=0.965","s":"弹性桨叶计算值","x":250,"y":0.13},{"p":"(e) r/R=0.965","s":"弹性桨叶计算值","x":265,"y":0.125},{"p":"(e) r/R=0.965","s":"弹性桨叶计算值","x":280,"y":0.12},{"p":"(e) r/R=0.965","s":"弹性桨叶计算值","x":295,"y":0.12},{"p":"(e) r/R=0.965","s":"弹性桨叶计算值","x":305,"y":0.11},{"p":"(e) r/R=0.965","s":"弹性桨叶计算值","x":320,"y":0.14},{"p":"(e) r/R=0.965","s":"弹性桨叶计算值","x":335,"y":0.165},{"p":"(e) r/R=0.965","s":"弹性桨叶计算值","x":350,"y":0.18},{"p":"(e) r/R=0.965","s":"弹性桨叶计算值","x":360,"y":0.18},
      {"p":"(f) r/R=0.990","s":"刚性桨叶计算值","x":0,"y":0.17},{"p":"(f) r/R=0.990","s":"刚性桨叶计算值","x":10,"y":0.13},{"p":"(f) r/R=0.990","s":"刚性桨叶计算值","x":25,"y":0.12},{"p":"(f) r/R=0.990","s":"刚性桨叶计算值","x":40,"y":0.115},{"p":"(f) r/R=0.990","s":"刚性桨叶计算值","x":55,"y":0.105},{"p":"(f) r/R=0.990","s":"刚性桨叶计算值","x":70,"y":0.09},{"p":"(f) r/R=0.990","s":"刚性桨叶计算值","x":85,"y":0.06},{"p":"(f) r/R=0.990","s":"刚性桨叶计算值","x":100,"y":0.02},{"p":"(f) r/R=0.990","s":"刚性桨叶计算值","x":115,"y":0},{"p":"(f) r/R=0.990","s":"刚性桨叶计算值","x":130,"y":0},{"p":"(f) r/R=0.990","s":"刚性桨叶计算值","x":145,"y":0.03},{"p":"(f) r/R=0.990","s":"刚性桨叶计算值","x":160,"y":0.08},{"p":"(f) r/R=0.990","s":"刚性桨叶计算值","x":175,"y":0.13},{"p":"(f) r/R=0.990","s":"刚性桨叶计算值","x":190,"y":0.16},{"p":"(f) r/R=0.990","s":"刚性桨叶计算值","x":205,"y":0.175},{"p":"(f) r/R=0.990","s":"刚性桨叶计算值","x":220,"y":0.17},{"p":"(f) r/R=0.990","s":"刚性桨叶计算值","x":235,"y":0.16},{"p":"(f) r/R=0.990","s":"刚性桨叶计算值","x":250,"y":0.145},{"p":"(f) r/R=0.990","s":"刚性桨叶计算值","x":265,"y":0.14},{"p":"(f) r/R=0.990","s":"刚性桨叶计算值","x":280,"y":0.135},{"p":"(f) r/R=0.990","s":"刚性桨叶计算值","x":295,"y":0.125},{"p":"(f) r/R=0.990","s":"刚性桨叶计算值","x":305,"y":0.12},{"p":"(f) r/R=0.990","s":"刚性桨叶计算值","x":320,"y":0.15},{"p":"(f) r/R=0.990","s":"刚性桨叶计算值","x":335,"y":0.19},{"p":"(f) r/R=0.990","s":"刚性桨叶计算值","x":350,"y":0.205},{"p":"(f) r/R=0.990","s":"刚性桨叶计算值","x":355,"y":0.2},
      {"p":"(f) r/R=0.990","s":"弹性桨叶计算值","x":0,"y":0.105},{"p":"(f) r/R=0.990","s":"弹性桨叶计算值","x":15,"y":0.09},{"p":"(f) r/R=0.990","s":"弹性桨叶计算值","x":30,"y":0.075},{"p":"(f) r/R=0.990","s":"弹性桨叶计算值","x":45,"y":0.055},{"p":"(f) r/R=0.990","s":"弹性桨叶计算值","x":60,"y":0.04},{"p":"(f) r/R=0.990","s":"弹性桨叶计算值","x":70,"y":0.05},{"p":"(f) r/R=0.990","s":"弹性桨叶计算值","x":80,"y":0.02},{"p":"(f) r/R=0.990","s":"弹性桨叶计算值","x":95,"y":-0.03},{"p":"(f) r/R=0.990","s":"弹性桨叶计算值","x":110,"y":-0.07},{"p":"(f) r/R=0.990","s":"弹性桨叶计算值","x":120,"y":-0.09},{"p":"(f) r/R=0.990","s":"弹性桨叶计算值","x":135,"y":-0.085},{"p":"(f) r/R=0.990","s":"弹性桨叶计算值","x":150,"y":-0.04},{"p":"(f) r/R=0.990","s":"弹性桨叶计算值","x":165,"y":0.02},{"p":"(f) r/R=0.990","s":"弹性桨叶计算值","x":180,"y":0.08},{"p":"(f) r/R=0.990","s":"弹性桨叶计算值","x":195,"y":0.13},{"p":"(f) r/R=0.990","s":"弹性桨叶计算值","x":210,"y":0.16},{"p":"(f) r/R=0.990","s":"弹性桨叶计算值","x":225,"y":0.17},{"p":"(f) r/R=0.990","s":"弹性桨叶计算值","x":240,"y":0.155},{"p":"(f) r/R=0.990","s":"弹性桨叶计算值","x":255,"y":0.135},{"p":"(f) r/R=0.990","s":"弹性桨叶计算值","x":270,"y":0.12},{"p":"(f) r/R=0.990","s":"弹性桨叶计算值","x":285,"y":0.11},{"p":"(f) r/R=0.990","s":"弹性桨叶计算值","x":300,"y":0.08},{"p":"(f) r/R=0.990","s":"弹性桨叶计算值","x":315,"y":0.085},{"p":"(f) r/R=0.990","s":"弹性桨叶计算值","x":330,"y":0.1},{"p":"(f) r/R=0.990","s":"弹性桨叶计算值","x":345,"y":0.11},{"p":"(f) r/R=0.990","s":"弹性桨叶计算值","x":355,"y":0.115},{"p":"(f) r/R=0.990","s":"弹性桨叶计算值","x":360,"y":0.095}
  ]},
  "facet": {
    "field": "p",
    "type": "nominal",
    "title": null,
    "header": {"labelOrient": "bottom", "labelFont": "Liberation Serif", "labelFontSize": 56, "labelPadding": 40}
  },
  "columns": 3,
  "spacing": {"column": 210, "row": 100},
  "resolve": {"axis": {"x": "independent", "y": "independent"}},
  "spec": {
    "width": 880,
    "height": 620,
    "encoding": {
      "x": {"field": "x", "type": "quantitative", "scale": {"domain": [0, 360], "nice": false},
        "axis": {"values": [0, 60, 120, 180, 240, 300, 360], "title": "方位角/(°)", "titlePadding": 14}},
      "y": {"field": "y", "type": "quantitative", "scale": {"domain": [-0.2, 0.4], "nice": false},
        "axis": {"values": [-0.2, -0.1, 0, 0.1, 0.2, 0.3, 0.4], "format": ".1f", "labelExpr": "datum.value == 0 ? '0' : datum.label", "title": "法向力系数M²Cₙ", "titlePadding": 14}}
    },
    "layer": [
      {
        "transform": [{"filter": "datum.s != '飞行试验(C8534)'"}],
        "mark": {"type": "line", "strokeWidth": 4},
        "encoding": {
          "color": {"field": "s", "type": "nominal", "title": null,
            "scale": {"domain": ["飞行试验(C8534)", "刚性桨叶计算值", "弹性桨叶计算值"], "range": ["#e8141c", "#1a2ee6", "#000000"]}},
          "strokeDash": {"field": "s", "type": "nominal", "title": null,
            "scale": {"domain": ["飞行试验(C8534)", "刚性桨叶计算值", "弹性桨叶计算值"], "range": [[1, 0], [22, 12], [1, 0]]}}
        }
      },
      {
        "transform": [{"filter": "datum.s == '飞行试验(C8534)'"}],
        "mark": {"type": "point", "filled": true, "size": 330, "opacity": 1},
        "encoding": {
          "color": {"field": "s", "type": "nominal"},
          "shape": {"field": "p", "type": "nominal", "legend": null,
            "scale": {"domain": ["(a) r/R=0.225", "(b) r/R=0.775", "(c) r/R=0.865", "(d) r/R=0.920", "(e) r/R=0.965", "(f) r/R=0.990"], "range": ["circle", "circle", "square", "circle", "circle", "circle"]}}
        }
      }
    ]
  },
  "config": {
    "font": "Liberation Serif",
    "view": {"stroke": "#000", "strokeWidth": 3},
    "axis": {
      "labelFont": "Liberation Serif", "labelFontSize": 54, "labelColor": "#000",
      "titleFont": "Noto Sans CJK SC", "titleFontSize": 56, "titleFontWeight": "normal", "titleColor": "#000",
      "grid": true, "gridColor": "#777", "gridDash": [3, 4], "gridWidth": 2,
      "domain": false, "tickColor": "#000", "tickWidth": 3, "tickSize": -14, "labelPadding": 18
    },
    "legend": {
      "orient": "top", "direction": "horizontal", "labelFont": "Noto Sans CJK SC", "labelFontSize": 56,
      "symbolSize": 1400, "symbolStrokeWidth": 4, "columnPadding": 40, "labelLimit": 800, "padding": 0, "offset": 30,
      "layout": {"top": {"anchor": "middle"}}
    }
  }
}
